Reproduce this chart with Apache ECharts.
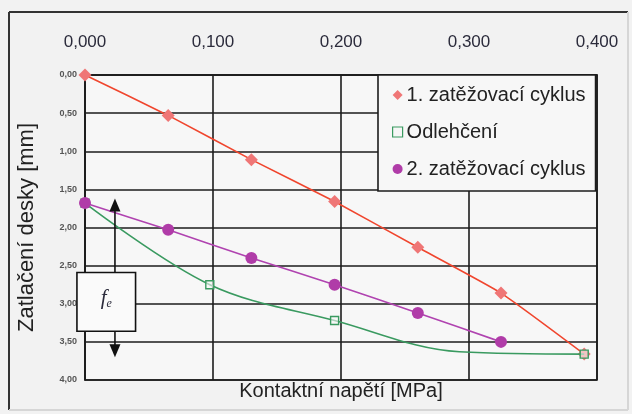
<!DOCTYPE html>
<html><head><meta charset="utf-8">
<script src="https://cdn.jsdelivr.net/npm/echarts@6/dist/echarts.min.js"></script>
<style>html,body{margin:0;padding:0;background:#f2f2f2;}#c{width:632px;height:414px;}</style>
</head><body><div id="c"></div>
<script>
const seriesNames = ['1. zatěžovací cyklus', 'Odlehčení', '2. zatěžovací cyklus'];
const load1X = [0, 0.065, 0.13, 0.195, 0.26, 0.325, 0.39];
const load1Y = [0, 0.53, 1.11, 1.66, 2.26, 2.86, 3.66];
const unloadX = [0, 0.0975, 0.195, 0.2925, 0.39];
const unloadY = [1.68, 2.75, 3.22, 3.63, 3.66];
const unloadHidden = [false, false, false, true, false];
const load2X = [0, 0.065, 0.13, 0.195, 0.26, 0.325];
const load2Y = [1.68, 2.03, 2.40, 2.75, 3.12, 3.50];
const xTicks = [0, 0.1, 0.2, 0.3, 0.4];
const yTicks = [0, 0.5, 1, 1.5, 2, 2.5, 3, 3.5, 4];
const xName = 'Kontaktní napětí [MPa]';
const yName = 'Zatlačení desky [mm]';
// annotation (f_e) in data coordinates
const feArrowX = 0.0234, feArrowTop = 1.62, feArrowBottom = 3.70;
const feBox = {x0: -0.0063, x1: 0.0395, y0: 2.59, y1: 3.36};

const pairs = (xs, ys) => xs.map((x, i) => [x, ys[i]]);
const comma = (v, d) => v.toFixed(d).replace('.', ',');
const chart = echarts.init(document.getElementById('c'));
const gridLine = {show: true, lineStyle: {color: '#1c1c1c', width: 1.6}};
const FONT = 'Liberation Sans, Arial';
chart.setOption({
  backgroundColor: '#f2f2f2',
  animation: false,
  grid: {left: 85, right: 35, top: 75, bottom: 34, show: true, backgroundColor: '#f7f7f7', borderColor: '#1c1c1c', borderWidth: 1.6},
  legend: {
    orient: 'vertical', left: 378, top: 75,
    data: [
      {name: seriesNames[0], icon: 'diamond'},
      {name: seriesNames[1], icon: 'rect', itemStyle: {color: '#f6f6f6', borderColor: '#3a9a60', borderWidth: 1.2}},
      {name: seriesNames[2], icon: 'circle'}
    ],
    itemWidth: 10, itemHeight: 10, itemGap: 17,
    padding: [10, 10, 12, 14],
    backgroundColor: '#f7f7f7', borderColor: '#1c1c1c', borderWidth: 1.6, borderRadius: 0,
    textStyle: {fontFamily: FONT, fontSize: 20, color: '#222', padding: [0, 0, 0, -1]}
  },
  xAxis: [{
    type: 'value', position: 'top', min: 0, max: 0.4, interval: 0.1,
    axisLine: {show: true, lineStyle: {color: '#1c1c1c', width: 1.6}},
    axisTick: {show: false},
    splitLine: gridLine,
    axisLabel: {margin: 24, fontFamily: FONT, fontSize: 17, color: '#2b2b3b', formatter: v => comma(v, 3),
      customValues: xTicks}
  }, {
    type: 'value', position: 'bottom', min: 0, max: 0.4, interval: 0.1,
    axisLine: {show: false}, axisTick: {show: false}, axisLabel: {show: false}, splitLine: {show: false},
    name: xName, nameLocation: 'middle', nameGap: 1,
    nameTextStyle: {fontFamily: FONT, fontSize: 20, color: '#222'}
  }],
  yAxis: {
    type: 'value', inverse: true, min: 0, max: 4, interval: 0.5,
    axisLine: {show: true, lineStyle: {color: '#1c1c1c', width: 1.6}},
    axisTick: {show: false},
    splitLine: gridLine,
    axisLabel: {margin: 8, fontFamily: FONT, fontSize: 9, fontWeight: 'bold', color: '#555', formatter: v => comma(v, 2),
      customValues: yTicks},
    name: yName, nameLocation: 'middle', nameGap: 47,
    nameTextStyle: {fontFamily: FONT, fontSize: 22, color: '#222'}
  },
  series: [{
    name: seriesNames[0], type: 'line', data: pairs(load1X, load1Y), smooth: 0.15,
    symbol: 'diamond', symbolSize: 13,
    lineStyle: {color: '#f0462e', width: 1.6},
    itemStyle: {color: '#ef7676'}, z: 3
  }, {
    name: seriesNames[1], type: 'line',
    data: unloadX.map((x, i) => unloadHidden[i] ? {value: [x, unloadY[i]], symbol: 'none'} : [x, unloadY[i]]),
    smooth: 0.35, symbol: 'rect', symbolSize: 8,
    lineStyle: {color: '#3a9a60', width: 1.6},
    itemStyle: {color: 'rgba(246,246,246,0.6)', borderColor: '#3a9a60', borderWidth: 1.4}, z: 4
  }, {
    name: seriesNames[2], type: 'line', data: pairs(load2X, load2Y), smooth: 0.15,
    symbol: 'circle', symbolSize: 12,
    lineStyle: {color: '#b043b0', width: 1.6},
    itemStyle: {color: '#b03ca8'}, z: 5
  }]
});
function addGraphics() {
  const p = (x, y) => chart.convertToPixel({xAxisIndex: 0, yAxisIndex: 0}, [x, y]);
  const aT = p(feArrowX, feArrowTop), aB = p(feArrowX, feArrowBottom);
  const b0 = p(feBox.x0, feBox.y0), b1 = p(feBox.x1, feBox.y1);
  const ax = aT[0];
  chart.setOption({graphic: [
    {type: 'line', shape: {x1: 9, y1: 12, x2: 628, y2: 12}, style: {stroke: '#333', lineWidth: 2}},
    {type: 'line', shape: {x1: 9, y1: 12, x2: 9, y2: 410}, style: {stroke: '#333', lineWidth: 2}},
    {type: 'line', shape: {x1: 9, y1: 410, x2: 628, y2: 410}, style: {stroke: '#d6d6d6', lineWidth: 2}},
    {type: 'line', shape: {x1: 628, y1: 12, x2: 628, y2: 410}, style: {stroke: '#d6d6d6', lineWidth: 2}},
    {type: 'line', z: 10, shape: {x1: ax, y1: aT[1] + 8, x2: ax, y2: aB[1] - 8}, style: {stroke: '#111', lineWidth: 1.6}},
    {type: 'polygon', z: 10, shape: {points: [[ax, aT[1]], [ax - 5.5, aT[1] + 13], [ax + 5.5, aT[1] + 13]]}, style: {fill: '#111'}},
    {type: 'polygon', z: 10, shape: {points: [[ax, aB[1]], [ax - 5.5, aB[1] - 13], [ax + 5.5, aB[1] - 13]]}, style: {fill: '#111'}},
    {type: 'rect', z: 11, shape: {x: b0[0], y: b0[1], width: b1[0] - b0[0], height: b1[1] - b0[1]}, style: {fill: '#fafafa', stroke: '#111', lineWidth: 1.6}},
    {type: 'text', z: 12, x: (b0[0] + b1[0]) / 2, y: b0[1] + 26, style: {
      text: '{f|f}{e|e}', align: 'center', verticalAlign: 'middle',
      rich: {f: {fontFamily: 'Liberation Serif, Times New Roman', fontStyle: 'italic', fontSize: 21, fill: '#2b2b3b'},
             e: {fontFamily: 'Liberation Serif, Times New Roman', fontStyle: 'italic', fontSize: 12, fill: '#2b2b3b', padding: [10, 0, 0, 0]}}
    }}
  ]});
}
addGraphics();
</script></body></html>
